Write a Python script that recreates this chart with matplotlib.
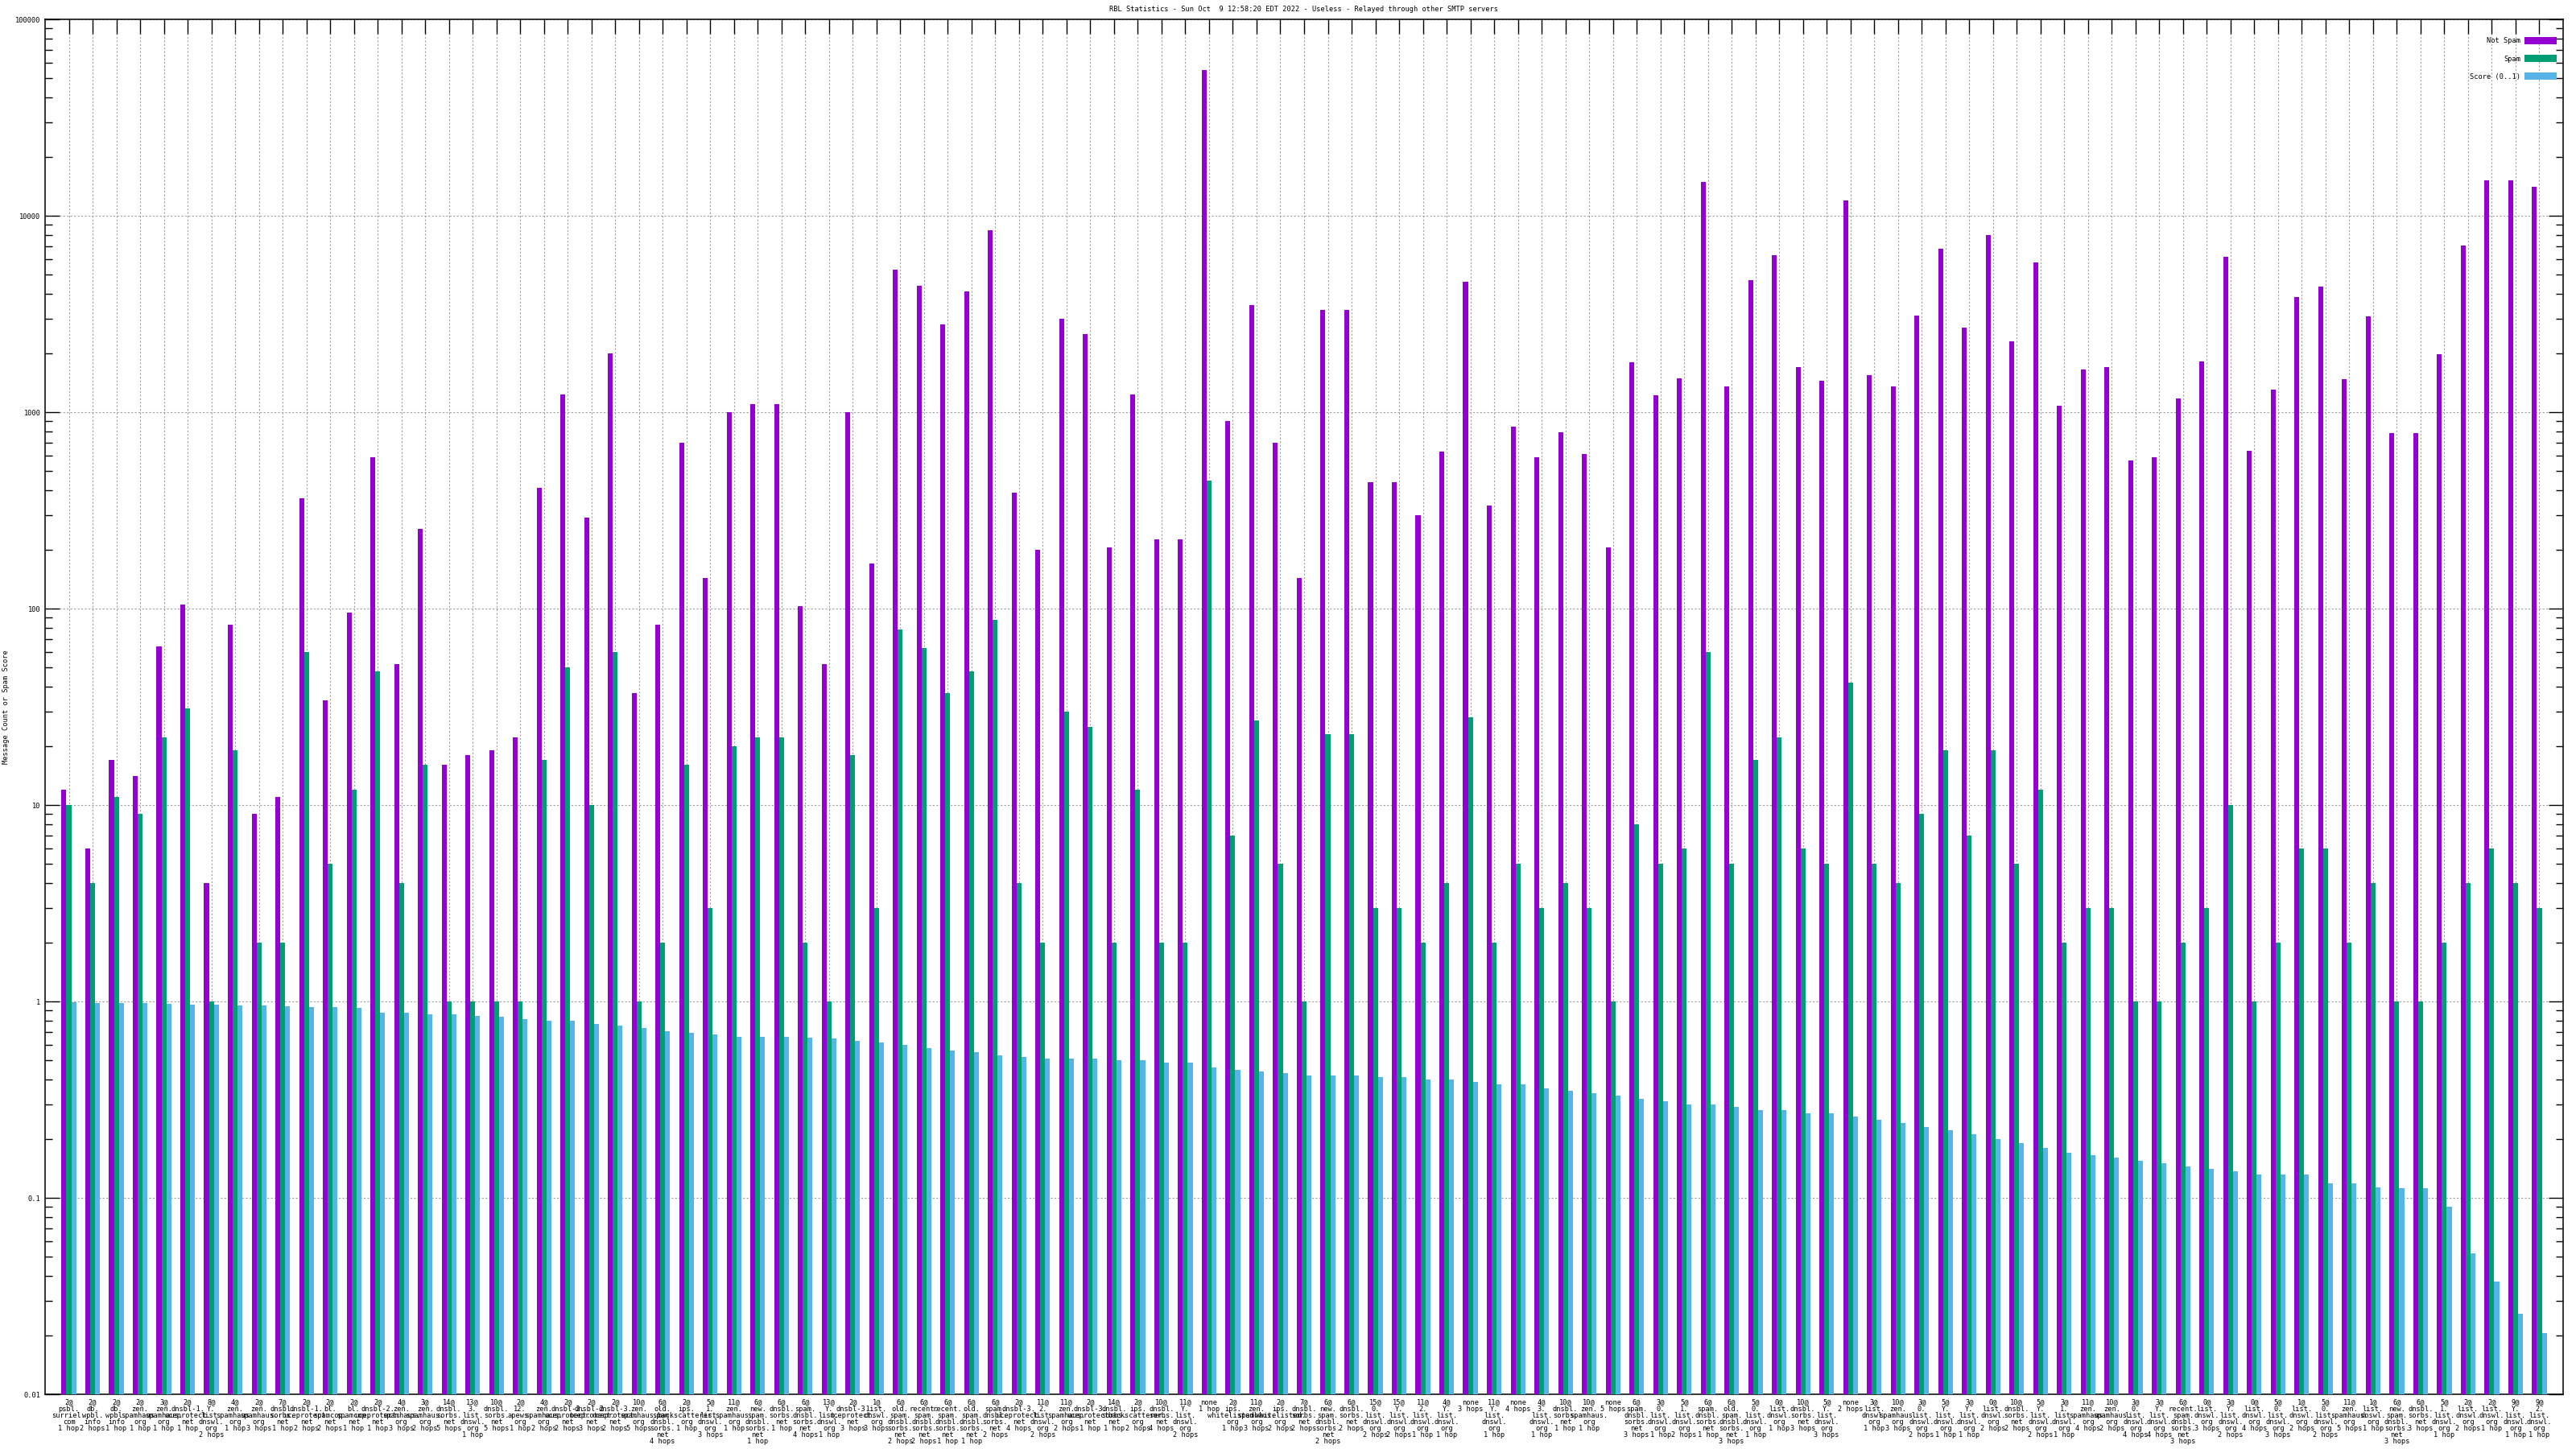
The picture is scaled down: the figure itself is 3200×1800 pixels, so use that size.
# %% Imports and setup
import matplotlib
matplotlib.use("Agg")
import matplotlib.pyplot as plt
import numpy as np
from matplotlib.ticker import FixedLocator, NullFormatter

TITLE = "RBL Statistics - Sun Oct  9 12:58:20 EDT 2022 - Useless - Relayed through other SMTP servers"
YLABEL = "Message Count or Spam Score"
SERIES_NAMES = ["Not Spam", "Spam", "Score (0..1)"]
COLORS = ["#9400d3", "#009e73", "#56b4e9"]

# hits@list (or "none") and hop count for every group
HOSTS = [
    "2@psbl.surriel.com", "2@db.wpbl.info", "2@db.wpbl.info", "2@zen.spamhaus.org",
    "3@zen.spamhaus.org", "2@dnsbl-1.uceprotect.net", "8@Y.list.dnswl.org", "4@zen.spamhaus.org",
    "2@zen.spamhaus.org", "7@dnsbl.sorbs.net", "2@dnsbl-1.uceprotect.net", "2@bl.spamcop.net",
    "2@bl.spamcop.net", "2@dnsbl-2.uceprotect.net", "4@zen.spamhaus.org", "3@zen.spamhaus.org",
    "14@dnsbl.sorbs.net", "13@3.list.dnswl.org", "10@dnsbl.sorbs.net", "2@12.apews.org",
    "4@zen.spamhaus.org", "2@dnsbl-2.uceprotect.net",
    "2@dnsbl-2.uceprotect.net", "2@dnsbl-3.uceprotect.net", "10@zen.spamhaus.org",
    "6@old.spam.dnsbl.sorbs.net", "2@ips.backscatterer.org", "5@1.list.dnswl.org",
    "11@zen.spamhaus.org", "6@new.spam.dnsbl.sorbs.net", "6@dnsbl.sorbs.net",
    "6@spam.dnsbl.sorbs.net", "13@Y.list.dnswl.org", "2@dnsbl-3.uceprotect.net",
    "1@list.dnswl.org", "6@old.spam.dnsbl.sorbs.net", "6@recent.spam.dnsbl.sorbs.net",
    "6@recent.spam.dnsbl.sorbs.net", "6@old.spam.dnsbl.sorbs.net", "6@spam.dnsbl.sorbs.net",
    "2@dnsbl-3.uceprotect.net", "11@2.list.dnswl.org", "11@zen.spamhaus.org",
    "2@dnsbl-3.uceprotect.net",
    "14@dnsbl.sorbs.net", "2@ips.backscatterer.org", "10@dnsbl.sorbs.net", "11@Y.list.dnswl.org",
    "none", "2@ips.whitelisted.org", "11@zen.spamhaus.org", "2@ips.whitelisted.org",
    "7@dnsbl.sorbs.net", "6@new.spam.dnsbl.sorbs.net", "6@dnsbl.sorbs.net", "15@0.list.dnswl.org",
    "15@Y.list.dnswl.org", "11@2.list.dnswl.org", "4@Y.list.dnswl.org", "none",
    "11@Y.list.dnswl.org", "none", "4@3.list.dnswl.org", "10@dnsbl.sorbs.net",
    "10@zen.spamhaus.org", "none",
    "6@spam.dnsbl.sorbs.net", "3@0.list.dnswl.org", "5@1.list.dnswl.org", "6@spam.dnsbl.sorbs.net",
    "6@old.spam.dnsbl.sorbs.net", "5@0.list.dnswl.org", "0@list.dnswl.org", "10@dnsbl.sorbs.net",
    "5@Y.list.dnswl.org", "none", "3@list.dnswl.org", "10@zen.spamhaus.org",
    "3@0.list.dnswl.org", "5@Y.list.dnswl.org", "3@Y.list.dnswl.org", "0@list.dnswl.org",
    "10@dnsbl.sorbs.net", "5@Y.list.dnswl.org", "3@1.list.dnswl.org", "11@zen.spamhaus.org",
    "10@zen.spamhaus.org",
    "3@0.list.dnswl.org", "3@Y.list.dnswl.org", "6@recent.spam.dnsbl.sorbs.net",
    "0@list.dnswl.org", "3@Y.list.dnswl.org", "0@list.dnswl.org", "5@0.list.dnswl.org",
    "1@list.dnswl.org", "5@0.list.dnswl.org", "11@zen.spamhaus.org", "1@list.dnswl.org",
    "6@new.spam.dnsbl.sorbs.net", "6@dnsbl.sorbs.net", "5@1.list.dnswl.org", "2@list.dnswl.org",
    "2@list.dnswl.org", "9@Y.list.dnswl.org", "9@2.list.dnswl.org",
]
HOPS = [
    1, 2, 1, 1, 1, 1, 2, 1, 3, 1, 2, 2, 1, 1, 3, 2, 5, 1, 5, 1, 2, 2,
    3, 2, 5, 4, 1, 3, 1, 1, 1, 4, 1, 3, 3, 2, 2, 1, 1, 2, 4, 2, 2, 1,
    1, 2, 4, 2, 1, 1, 3, 2, 2, 2, 2, 2, 2, 1, 1, 3, 1, 4, 1, 1, 1, 5,
    3, 1, 2, 1, 3, 1, 1, 3, 3, 2, 1, 3, 2, 1, 1, 2, 2, 2, 1, 4, 2,
    4, 4, 3, 3, 2, 4, 3, 2, 2, 5, 1, 3, 3, 1, 2, 1, 1, 1,
]

NOT_SPAM = [
    12, 6, 17, 14, 64, 105, 4, 83, 9, 11,
    366, 34, 95, 590, 52, 255, 16, 18, 19, 22,
    410, 1230, 290, 2000, 37, 83, 700, 143, 1000, 1100,
    1100, 103, 52, 1000, 170, 5300, 4400, 2800, 4100, 8400,
    390, 200, 3000, 2500, 205, 1230, 225, 225, 55000, 900,
    3500, 700, 143, 3300, 3300, 440, 440, 300, 630, 4600,
    335, 840, 590, 790, 610, 205, 1800, 1220, 1480, 14800,
    1350, 4700, 6300, 1700, 1450, 12000, 1550, 1350, 3100, 6800,
    2700, 8000, 2300, 5800, 1080, 1650, 1700, 570, 590, 1170,
    1810, 6200, 637, 1300, 3870, 4340, 1470, 3070, 780, 780,
    1975, 7080, 15100, 15100, 14000,
]
SPAM = [
    10, 4, 11, 9, 22, 31, 1, 19, 2, 2,
    60, 5, 12, 48, 4, 16, 1, 1, 1, 1,
    17, 50, 10, 60, 1, 2, 16, 3, 20, 22,
    22, 2, 1, 18, 3, 78, 63, 37, 48, 88,
    4, 2, 30, 25, 2, 12, 2, 2, 450, 7,
    27, 5, 1, 23, 23, 3, 3, 2, 4, 28,
    2, 5, 3, 4, 3, 1, 8, 5, 6, 60,
    5, 17, 22, 6, 5, 42, 5, 4, 9, 19,
    7, 19, 5, 12, 2, 3, 3, 1, 1, 2,
    3, 10, 1, 2, 6, 6, 2, 4, 1, 1,
    2, 4, 6, 4, 3,
]
SCORE = [
    0.99, 0.98, 0.98, 0.98, 0.97, 0.96, 0.96, 0.95, 0.95, 0.945,
    0.936, 0.936, 0.93, 0.88, 0.88, 0.86, 0.86, 0.84, 0.836, 0.81,
    0.80, 0.80, 0.77, 0.75, 0.73, 0.705, 0.69, 0.68, 0.66, 0.66,
    0.66, 0.654, 0.647, 0.63, 0.62, 0.60, 0.58, 0.56, 0.55, 0.53,
    0.52, 0.51, 0.51, 0.51, 0.50, 0.50, 0.49, 0.49, 0.46, 0.45,
    0.44, 0.43, 0.42, 0.42, 0.42, 0.41, 0.41, 0.40, 0.40, 0.39,
    0.38, 0.38, 0.36, 0.35, 0.34, 0.33, 0.32, 0.31, 0.30, 0.30,
    0.29, 0.28, 0.28, 0.27, 0.27, 0.26, 0.25, 0.24, 0.23, 0.22,
    0.21, 0.20, 0.19, 0.18, 0.17, 0.165, 0.16, 0.155, 0.15, 0.144,
    0.14, 0.136, 0.132, 0.132, 0.131, 0.119, 0.118, 0.113, 0.112, 0.112,
    0.09, 0.052, 0.0376, 0.0256, 0.0205,
]

Y_TICKS = [0.01, 0.1, 1, 10, 100, 1000, 10000, 100000]
Y_TICK_LABELS = ["0.01", "0.1", "1", "10", "100", "1000", "10000", "100000"]

FONT = "DejaVu Sans Mono"
FS = 6.2
plt.rcParams.update({"font.family": FONT, "font.size": FS})


def format_label(host, hops):
    hop_txt = "1 hop" if hops == 1 else f"{hops} hops"
    if host == "none":
        return f"none\n{hop_txt}"
    hits, name = host.split("@")
    parts = name.split(".")
    lines = [hits + "@"] + [p + "." for p in parts[:-1]] + [parts[-1], hop_txt]
    return "\n".join(lines)


n = min(len(HOSTS), len(HOPS), len(NOT_SPAM), len(SPAM), len(SCORE))
labels = [format_label(h, k) for h, k in zip(HOSTS[:n], HOPS[:n])]
x = np.arange(n)

# %% Plot
W, H = 3200, 1800
fig = plt.figure(figsize=(W / 100, H / 100), dpi=100)
ax = fig.add_axes([56 / W, 1 - 1732 / H, (3184 - 56) / W, (1732 - 24) / H])

BAR_W = 0.205
for k, (vals, col, name) in enumerate(zip([NOT_SPAM, SPAM, SCORE], COLORS, SERIES_NAMES)):
    ax.bar(x + (k - 1) * BAR_W, vals[:n], width=BAR_W, color=col, linewidth=0, label=name, zorder=3)

ax.set_yscale("log")
ax.set_ylim(0.01, 100000)
ax.set_xlim(-1, n)

ax.yaxis.set_major_locator(FixedLocator(Y_TICKS))
ax.set_yticklabels(Y_TICK_LABELS)
minor = [m * 10.0**e for e in range(-2, 5) for m in range(2, 10)]
ax.yaxis.set_minor_locator(FixedLocator(minor))
ax.yaxis.set_minor_formatter(NullFormatter())

ax.set_xticks(x)
ax.set_xticklabels(labels, linespacing=0.86, va="top", ha="center")

ax.tick_params(axis="both", which="major", direction="in", length=13, width=1,
               top=True, right=True, labelsize=FS, pad=4)
ax.tick_params(axis="y", which="minor", direction="in", length=6.5, width=1, right=True)

ax.grid(True, which="major", color="#a0a0a0", linestyle=(0, (2, 2)), linewidth=0.8, zorder=0)
ax.set_axisbelow(True)
for s in ax.spines.values():
    s.set_linewidth(1.1)

fig.text(1620 / W, 1 - 11 / H, TITLE, ha="center", va="center", fontsize=FS)
fig.text(8 / W, 1 - 878 / H, YLABEL, rotation=90, ha="center", va="center", fontsize=FS)

ax.legend(loc="upper right", bbox_to_anchor=(3176 / W, 1 - 46 / H), bbox_transform=fig.transFigure,
          markerfirst=False, frameon=False, borderpad=0, borderaxespad=0,
          handlelength=4.6, handleheight=1.2, handletextpad=0.6, labelspacing=1.5, fontsize=FS)

fig.savefig("out.png", dpi=100)
